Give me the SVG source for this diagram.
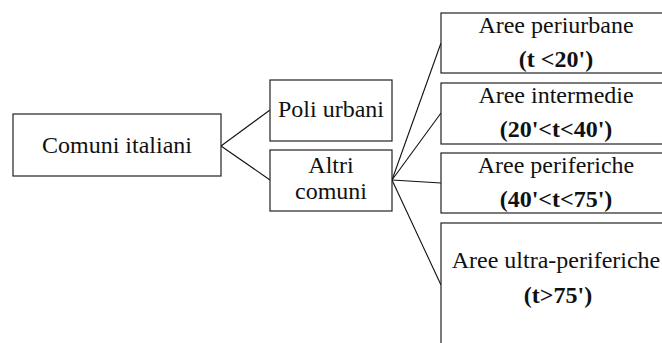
<svg xmlns="http://www.w3.org/2000/svg" width="662" height="343" viewBox="0 0 662 343">
<style>
rect{fill:#fff;stroke:#222;stroke-width:1.2}
line{stroke:#111;stroke-width:1.1}
text{font-family:"Liberation Serif","Times New Roman",serif;font-size:24px;fill:#111;text-anchor:middle}
.b{font-weight:bold}
</style>
<rect x="0" y="0" width="662" height="343" style="stroke:none"/>
<g id="connectors">
<line x1="221" y1="146" x2="270" y2="110"/>
<line x1="221" y1="146" x2="270" y2="180"/>
<line x1="392" y1="180" x2="441" y2="43"/>
<line x1="392" y1="180" x2="441" y2="113"/>
<line x1="392" y1="180" x2="441" y2="183"/>
<line x1="392" y1="180" x2="441" y2="285"/>
</g>
<g id="comuni"><rect x="13" y="114" width="208" height="62"/><text x="117" y="153">Comuni italiani</text></g>
<g id="poli"><rect x="270" y="80" width="122" height="61"/><text x="331" y="117">Poli urbani</text></g>
<g id="altri"><rect x="270" y="150" width="122" height="61"/><text x="331" y="173">Altri</text><text x="331" y="199">comuni</text></g>
<g id="periurbane"><rect x="441" y="13" width="230" height="60"/><text x="556" y="33">Aree periurbane</text><text class="b" x="556" y="67">(t &lt;20')</text></g>
<g id="intermedie"><rect x="441" y="83" width="230" height="61"/><text x="556" y="103">Aree intermedie</text><text class="b" x="556" y="137">(20'&lt;t&lt;40')</text></g>
<g id="periferiche"><rect x="441" y="153" width="230" height="60"/><text x="556" y="173">Aree periferiche</text><text class="b" x="556" y="207">(40'&lt;t&lt;75')</text></g>
<g id="ultra"><rect x="441" y="223" width="230" height="130"/><text x="556" y="268">Aree ultra-periferiche</text><text class="b" x="558" y="303">(t&gt;75')</text></g>
</svg>
